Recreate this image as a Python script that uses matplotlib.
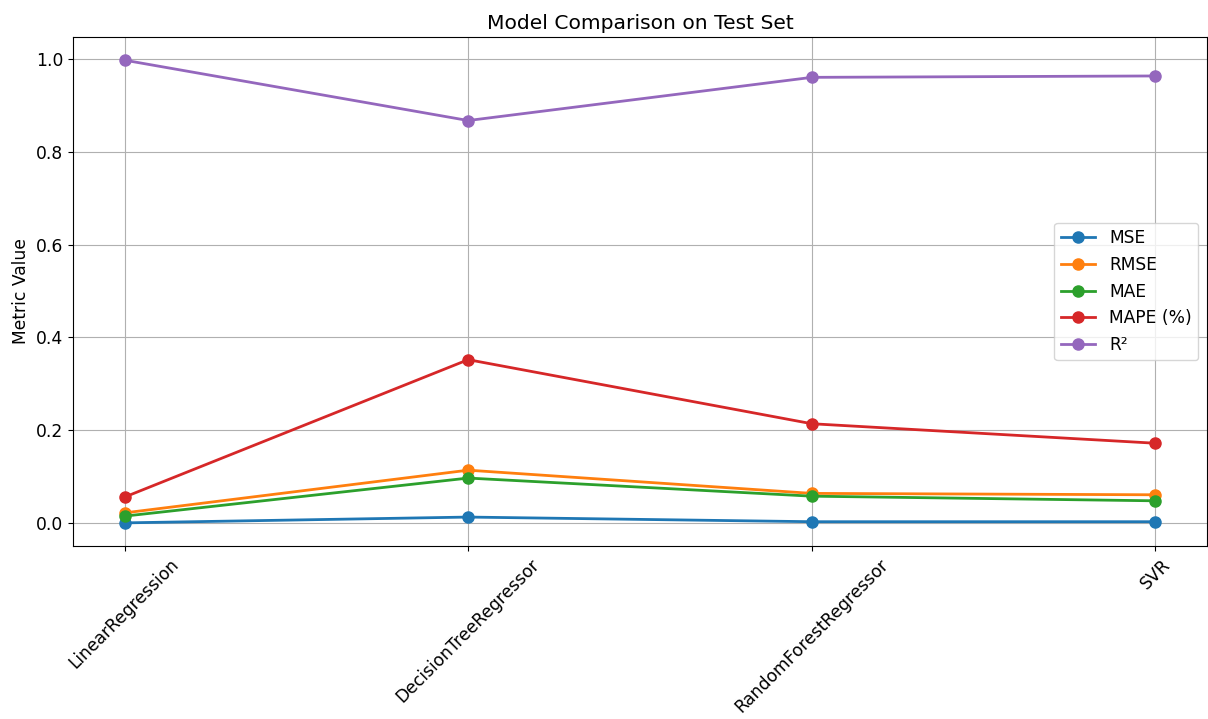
import matplotlib
matplotlib.use("Agg")
import matplotlib.pyplot as plt

models = ["LinearRegression", "DecisionTreeRegressor", "RandomForestRegressor", "SVR"]
mse = [0.0005, 0.013, 0.003, 0.003]
rmse = [0.022, 0.114, 0.064, 0.061]
mae = [0.015, 0.097, 0.058, 0.048]
mape = [0.056, 0.352, 0.214, 0.172]
r2 = [0.997, 0.867, 0.960, 0.963]

metrics = {"MSE": mse, "RMSE": rmse, "MAE": mae, "MAPE (%)": mape, "R²": r2}

plt.figure(figsize=(12.08, 7.19), dpi=100)
for name, vals in metrics.items():
    plt.plot(models, vals, marker="o", linewidth=2, markersize=8, label=name)
plt.title("Model Comparison on Test Set", fontsize=14.6)
plt.ylabel("Metric Value", fontsize=12.3)
plt.xticks(rotation=45, fontsize=12.3)
plt.yticks(fontsize=12.3)
plt.grid(True)
plt.legend(fontsize=12.3)
plt.subplots_adjust(left=0.0604, right=0.9992, top=0.9485, bottom=0.2406)
plt.savefig("out.png")
